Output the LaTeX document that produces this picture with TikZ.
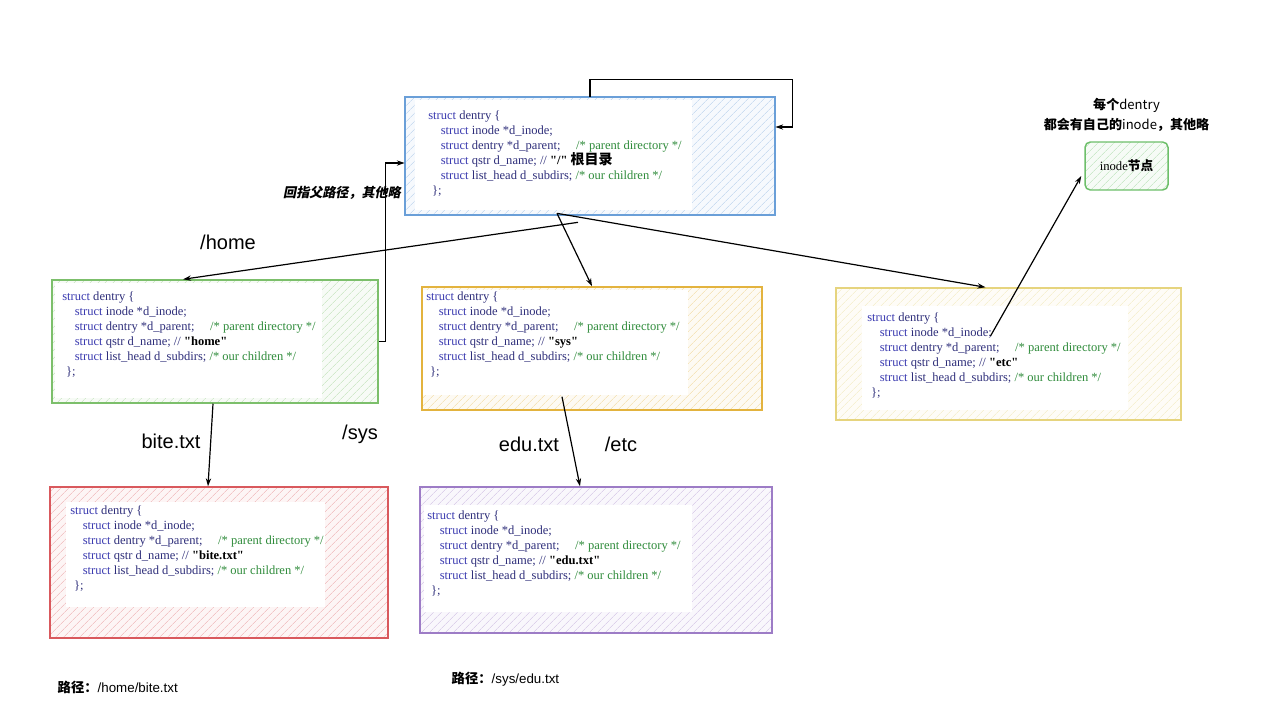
\documentclass[tikz,border=0pt]{standalone}
\usepackage{fontspec}
\setmainfont{Liberation Serif}[Ligatures=TeXOff]
\newfontfamily\lab{Liberation Sans}
\newfontfamily\cjk{Noto Sans CJK SC}
\newfontfamily\cjksl[FakeSlant=0.2]{Noto Sans CJK SC}
\usetikzlibrary{arrows.meta, positioning, calc, fit, patterns.meta}

\definecolor{kwblue}{HTML}{3A3AB0}
\definecolor{codeblue}{HTML}{2E2E7A}
\definecolor{cmtgreen}{HTML}{2E8B3A}
\definecolor{boxblue}{HTML}{6A9FD8}
\definecolor{boxgreen}{HTML}{7CBF6B}
\definecolor{boxorange}{HTML}{E3B33E}
\definecolor{boxyellow}{HTML}{E6D47E}
\definecolor{boxred}{HTML}{D9595D}
\definecolor{boxpurple}{HTML}{9D7CC6}
\definecolor{inodegreen}{HTML}{6DBF6A}

\newdimen\px \px=0.75pt

\newcommand\kw{\textcolor{kwblue}{struct}}
\newcommand\cmt[1]{\textcolor{cmtgreen}{#1}}
\newcommand\dentrytext[1]{%
  \kw\ dentry \{\\
  \hspace*{1em}\kw\ inode *d\_inode;\\
  \hspace*{1em}\kw\ dentry *d\_parent;\quad\ \cmt{/* parent directory */}\\
  \hspace*{1em}\kw\ qstr d\_name; // #1\\
  \hspace*{1em}\kw\ list\_head d\_subdirs; \cmt{/* our children */}\\
  \hspace*{0.3em}\};}
\newcommand\dname[1]{{\bfseries\color{black}"#1"}}

\tikzset{
  dbox/.style={draw=#1, line width=1.1pt, inner sep=0pt, preaction={fill=#1!6},
    pattern={Lines[angle=45,distance=4pt,line width=0.5pt]}, pattern color=#1!35},
  panel/.style={fill=white},
  code/.style={anchor=north west, align=left, inner sep=0pt, text=codeblue,
    font=\fontsize{9.4}{11.25}\selectfont},
  lbl/.style={font=\lab\fontsize{15}{18}\selectfont},
  note/.style={font=\cjk\bfseries\fontsize{9.8}{15}\selectfont}
}

\begin{document}
\begin{tikzpicture}[x=0.75pt, y=-0.75pt, >={Stealth[length=6pt,width=4pt]}]
  \useasboundingbox (0,0) rectangle (1280,719);

  % dentry boxes
  \node[dbox=boxblue, fit={(405,97) (775,215)}] (root) {};
  \node[dbox=boxgreen, fit={(52,280) (378,403)}] (home) {};
  \node[dbox=boxorange, fit={(422,287) (762,410)}] (sys) {};
  \node[dbox=boxyellow, fit={(836,288) (1181,420)}] (etc) {};
  \node[dbox=boxred, fit={(50,487) (388,638)}] (bite) {};
  \node[dbox=boxpurple, fit={(420,487) (772,633)}] (edu) {};

  \fill[panel] (415,100) rectangle (692,210);
  \fill[panel] (55,283) rectangle (322,398);
  \fill[panel] (423,290) rectangle (688,395);
  \fill[panel] (862,306) rectangle (1128,410);
  \fill[panel] (66,502) rectangle (325,607);
  \fill[panel] (424,505) rectangle (692,612);

  \node[code] (rootcode) at (428,111) {\dentrytext{\dname{/}\ {\cjk\bfseries\color{black}\fontsize{10.5}{11.25}\selectfont 根目录}}};
  \node[code] (homecode) at (62,292) {\dentrytext{\dname{home}}};
  \node[code] (syscode) at (426,292) {\dentrytext{\dname{sys}}};
  \node[code] (etccode) at (867,313) {\dentrytext{\dname{etc}}};
  \node[code] (bitecode) at (70,506) {\dentrytext{\dname{bite.txt}}};
  \node[code] (educode) at (427,511) {\dentrytext{\dname{edu.txt}}};

  % inode
  \node[dbox=inodegreen, rounded corners=4pt, minimum width=83\px, minimum height=48\px] (inode) at (1126.5,166)
    {{\fontsize{9.5}{11}\selectfont inode}{\cjk\bfseries\fontsize{9.5}{11}\selectfont 节点}};
  \node[note, align=center, above=4pt of inode] (inodenote) {每个{\mdseries dentry}\\都会有自己的{\mdseries inode}，其他略};

  % labels
  \node[lbl] (lhome) at (228,242) {/home};
  \node[lbl] (lsys) at (360,434) {/sys};
  \node[lbl] (lbite) at (171,441) {bite.txt};
  \node[lbl] (ledu) at (529,444) {edu.txt};
  \node[lbl] (letc) at (621,444) {/etc};
  \node[font=\cjksl\bfseries\fontsize{9.8}{12}\selectfont] (lback) at (342,193) {回指父路径，其他略};
  \node[anchor=west] (pathbite) at (53,687) {{\cjk\bfseries\fontsize{10}{12}\selectfont 路径：}{\lab\fontsize{10}{12}\selectfont /home/bite.txt}};
  \node[anchor=west] (pathedu) at (447,679) {{\cjk\bfseries\fontsize{10}{12}\selectfont 路径：}{\lab\fontsize{10}{12}\selectfont /sys/edu.txt}};

  % links
  \draw[->, line width=0.9pt] (root.north) |- ($(root.north east)+(17,-17)$) |- ($(root.east)+(0,-29)$);
  \draw[->, line width=0.9pt] ($(root.south)+(-12,7)$) -- ($(home.north)+(-32,0)$);
  \draw[->, line width=0.9pt] ($(root.south)+(-33,-2)$) -- (sys.north);
  \draw[->, line width=0.9pt] ($(root.south)+(-33,-2)$) -- ($(etc.north)+(-23,0)$);
  \draw[->, line width=0.9pt] (home.east) -- ++(7,0) |- ($(root.west)+(0,7)$);
  \draw[->, line width=0.9pt] ($(home.south)+(-2,0)$) -- ($(bite.north)+(-11,0)$);
  \draw[->, line width=0.9pt] ($(sys.south)+(-30,-14)$) -- ($(edu.north)+(-16,0)$);
  \draw[->, line width=0.9pt] ($(etc.center)+(-18,-18)$) -- ($(inode.west)+(-3,10)$);
\end{tikzpicture}
\end{document}
